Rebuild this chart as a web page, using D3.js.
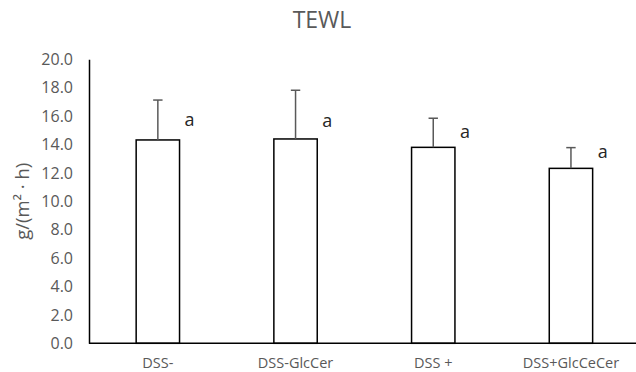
<!DOCTYPE html>
<html>
<head>
<meta charset="utf-8">
<script src="https://cdn.jsdelivr.net/npm/d3@7.9.0/dist/d3.min.js"></script>
<style>
  html, body { margin: 0; padding: 0; background: #fff; }
  svg { display: block; font-family: "Open Sans", sans-serif; }
</style>
</head>
<body>
<div id="chart"></div>
<script>
/* data */
const groups = ['DSS-', 'DSS-GlcCer', 'DSS +', 'DSS+GlcCeCer'];
const means = [14.32, 14.39, 13.80, 12.32];
const errors = [2.81, 3.43, 2.05, 1.46];
const letters = ['a', 'a', 'a', 'a'];
const letterAt = [15.3, 15.26, 14.45, 13.04];
const yTicks = [0, 2, 4, 6, 8, 10, 12, 14, 16, 18, 20];

const rows = groups.map((g, i) => ({
  group: g, mean: means[i], err: errors[i], letter: letters[i], at: letterAt[i]
}));

const width = 636, height = 372;
const margin = { top: 59.3, right: 0, bottom: 28.7, left: 89 };

const svg = d3.select('#chart').append('svg')
  .attr('width', width)
  .attr('height', height);

const x = d3.scaleBand()
  .domain(groups)
  .range([margin.left, margin.left + 4 * 137.7])
  .paddingInner(0.685)
  .paddingOuter(0.3425);

const y = d3.scaleLinear()
  .domain([0, 20])
  .range([height - margin.bottom, margin.top]);

/* title */
svg.append('text')
  .attr('x', 322)
  .attr('y', 28)
  .attr('text-anchor', 'middle')
  .attr('font-size', 23)
  .attr('fill', '#595959')
  .text('TEWL');

/* y axis */
const yAxis = svg.append('g')
  .attr('transform', `translate(${margin.left},0)`)
  .call(d3.axisLeft(y).tickValues(yTicks).tickSize(0).tickPadding(16)
    .tickFormat(d3.format('.1f')));
yAxis.select('.domain').attr('stroke', '#000').attr('stroke-width', 1.5);
yAxis.selectAll('text')
  .attr('font-family', '"Open Sans", sans-serif')
  .attr('font-size', 16)
  .attr('fill', '#595959');

svg.append('text')
  .attr('transform', `translate(29,${y(10)}) rotate(-90)`)
  .attr('text-anchor', 'middle')
  .attr('font-size', 18.5)
  .attr('fill', '#595959')
  .text('g/(m² · h)');

/* bars */
svg.append('g')
  .selectAll('rect')
  .data(rows)
  .join('rect')
  .attr('x', d => x(d.group))
  .attr('y', d => y(d.mean))
  .attr('width', x.bandwidth())
  .attr('height', d => y(0) - y(d.mean))
  .attr('fill', '#fff')
  .attr('stroke', '#000')
  .attr('stroke-width', 1.5);

/* error bars */
const eb = svg.append('g')
  .attr('stroke', '#595959')
  .attr('stroke-width', 1.5);
eb.selectAll('line.v')
  .data(rows)
  .join('line')
  .attr('class', 'v')
  .attr('x1', d => x(d.group) + x.bandwidth() / 2)
  .attr('x2', d => x(d.group) + x.bandwidth() / 2)
  .attr('y1', d => y(d.mean))
  .attr('y2', d => y(d.mean + d.err));
eb.selectAll('line.cap')
  .data(rows)
  .join('line')
  .attr('class', 'cap')
  .attr('x1', d => x(d.group) + x.bandwidth() / 2 - 4.7)
  .attr('x2', d => x(d.group) + x.bandwidth() / 2 + 4.7)
  .attr('y1', d => y(d.mean + d.err))
  .attr('y2', d => y(d.mean + d.err));

/* x axis */
const xAxis = svg.append('g')
  .attr('transform', `translate(0,${y(0)})`)
  .call(d3.axisBottom(x).tickSize(0).tickPadding(0));
xAxis.select('.domain')
  .attr('d', `M${margin.left},0H${width}`)
  .attr('stroke', '#000')
  .attr('stroke-width', 1.5);
xAxis.selectAll('text')
  .attr('font-family', '"Open Sans", sans-serif')
  .attr('font-size', 14.5)
  .attr('fill', '#595959')
  .attr('dy', d => d === 'DSS +' ? 25 : 24.5)
  .attr('y', 0);

/* significance letters */
svg.append('g')
  .selectAll('text')
  .data(rows)
  .join('text')
  .attr('x', d => x(d.group) + x.bandwidth() + 5)
  .attr('y', d => y(d.at))
  .attr('font-size', 18)
  .attr('fill', '#262626')
  .text(d => d.letter);
</script>
</body>
</html>
